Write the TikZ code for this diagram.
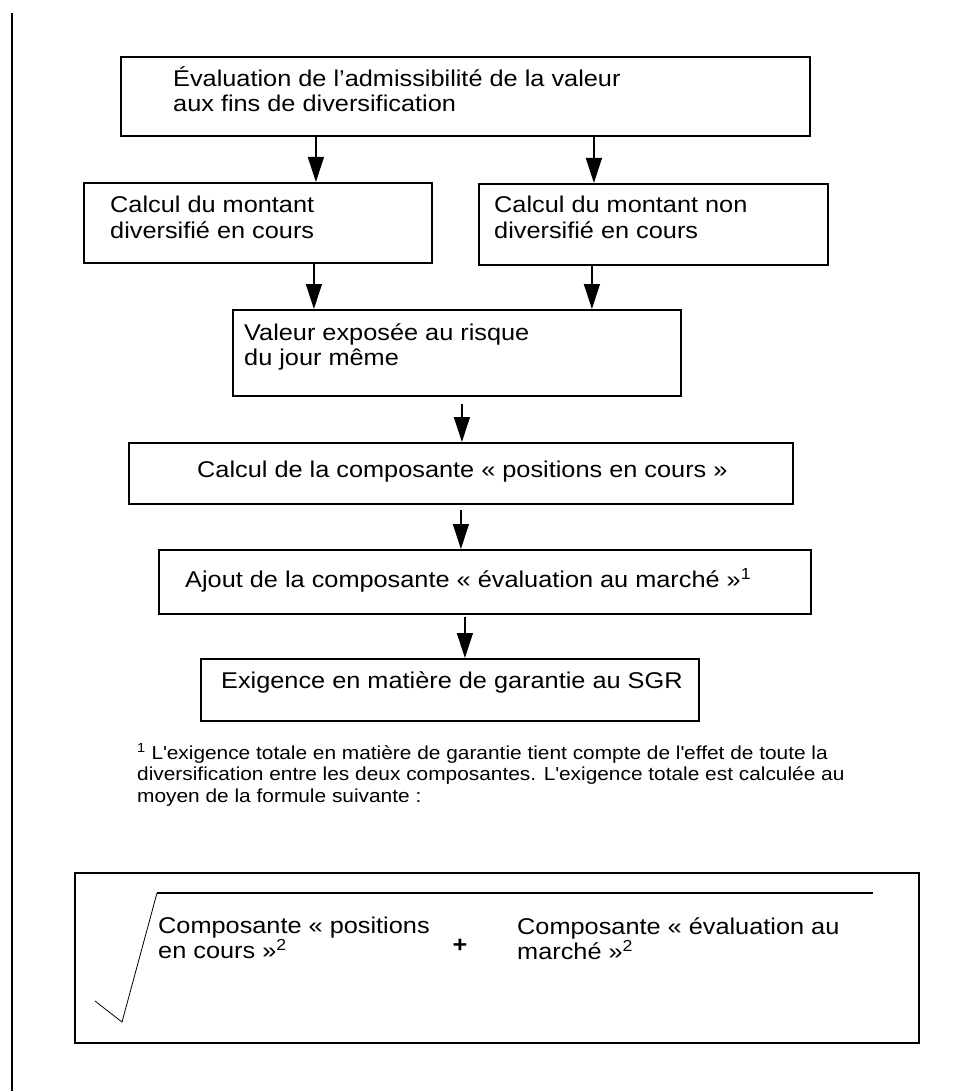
\documentclass[tikz,border=0pt]{standalone}
\usepackage{fontspec}
\setmainfont[FakeStretch=1.11]{Liberation Sans}
\usetikzlibrary{positioning, arrows.meta, calc}
\tikzset{
    box/.style={
        rectangle,
        draw=black,
        line width=1.8pt,
        inner sep=0pt,
        anchor=north west
    },
    boxtext/.style={
        anchor=base west,
        inner sep=0pt,
        align=left,
        font=\fontsize{22.8}{25}\selectfont
    },
    notetext/.style={
        anchor=base west,
        inner sep=0pt,
        align=left,
        font=\fontsize{18.8}{21.5}\selectfont
    },
    flow/.style={
        line width=1.3pt,
        -{Triangle[length=25pt,width=16pt]}
    }
}

\begin{document}
\begin{tikzpicture}[x=1pt,y=-1pt]
\useasboundingbox (0,0) rectangle (959,1091);

%---------------- Margin ----------------

\draw[line width=1.5pt] (12,13) -- (12,1091);

%---------------- Boxes ----------------
% text nodes sit on the baseline of their last line

\node[box, minimum width=689pt, minimum height=79pt] (eval) at (120,56) {};
\node[boxtext] (evalt) at (173,112) {Évaluation de l’admissibilité de la valeur\\aux fins de diversification};

\node[box, minimum width=348pt, minimum height=80pt] (div) at (83,182) {};
\node[boxtext] (divt) at (110,238) {Calcul du montant\\diversifié en cours};

\node[box, minimum width=349pt, minimum height=81pt] (nondiv) at (478,183) {};
\node[boxtext] (nondivt) at (494,238) {Calcul du montant non\\diversifié en cours};

\node[box, minimum width=448pt, minimum height=86pt] (risk) at (232,309) {};
\node[boxtext] (riskt) at (244,365) {Valeur exposée au risque\\du jour même};

\node[box, minimum width=664pt, minimum height=61pt] (pos) at (128,442) {};
\node[boxtext] (post) at (197,477) {Calcul de la composante « positions en cours »};

\node[box, minimum width=652pt, minimum height=64pt] (mark) at (158,549) {};
\node[boxtext] (markt) at (185,587) {Ajout de la composante « évaluation au marché »\textsuperscript{1}};

\node[box, minimum width=498pt, minimum height=62pt] (sgr) at (200,658) {};
\node[boxtext] (sgrt) at (221,688) {Exigence en matière de garantie au SGR};

%---------------- Arrows ----------------

\draw[flow] ([xshift=-149.5pt]eval.south) -- ([xshift=58pt]div.north);
\draw[flow] ([xshift=128.5pt]eval.south) -- ([xshift=-59.5pt]nondiv.north);
\draw[flow] ([xshift=56pt]div.south) -- ([xshift=-143pt]risk.north);
\draw[flow] ([xshift=-61.5pt]nondiv.south) -- ([xshift=135pt]risk.north);
\draw[flow] ([xshift=5pt,yshift=-7pt]risk.south) -- ([xshift=1pt]pos.north);
\draw[flow] ([yshift=-5pt]pos.south) -- ([xshift=-24pt]mark.north);
\draw[flow] ([xshift=-20pt,yshift=-2pt]mark.south) -- ([xshift=15pt]sgr.north);

%---------------- Footnote ----------------

\node[notetext] (note) at (137,802) {\textsuperscript{1} L\textquotesingle exigence totale en matière de garantie tient compte de l\textquotesingle effet de toute la\\diversification entre les deux composantes. L\textquotesingle exigence totale est calculée au\\moyen de la formule suivante :};

%---------------- Formula ----------------

\node[box, line width=2pt, minimum width=844pt, minimum height=170pt] (formula) at (74,872) {};
\draw[line width=0.8pt] (95,1001) -- (122,1022) -- (157,893);
\draw[line width=1.6pt] (157,893) -- (873,893);
\node[boxtext] (first) at (158,958) {Composante « positions\\en cours »\textsuperscript{2}};
\node[boxtext, anchor=center, font=\fontsize{22.8}{25}\bfseries] (plus) at (460,946) {+};
\node[boxtext] (second) at (517,959) {Composante « évaluation au\\marché »\textsuperscript{2}};

\end{tikzpicture}
\end{document}
